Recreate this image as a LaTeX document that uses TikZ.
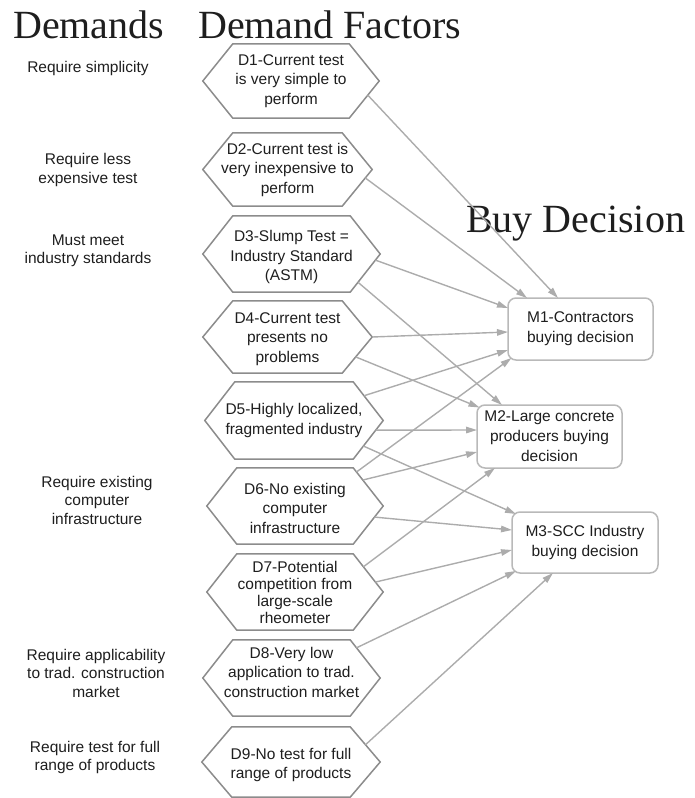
\documentclass[tikz,border=0pt]{standalone}
\usepackage{fontspec}
\setmainfont{Liberation Sans}
\newfontfamily\titlefont{Liberation Serif}
\usetikzlibrary{calc,arrows.meta}

\definecolor{hexgray}{RGB}{140,140,140}
\definecolor{linegray}{RGB}{172,172,172}
\definecolor{boxgray}{RGB}{185,185,185}
\definecolor{ink}{RGB}{30,30,30}

% hexagon outline round a factor node, with its two right-hand corners named
\newcommand\hexoutline[1]{%
  \draw[hexline] (#1.west) -- ([xshift=30pt]#1.north west)
    -- ([xshift=-30pt]#1.north east) coordinate (#1-ne)
    -- (#1.east) -- ([xshift=-30pt]#1.south east) coordinate (#1-se)
    -- ([xshift=30pt]#1.south west) -- cycle;}

\begin{document}
\begin{tikzpicture}[x=1pt,y=-1pt,
  title/.style={font=\titlefont\fontsize{40}{44}\selectfont, text=ink, anchor=base west, inner sep=0},
  demand/.style={font=\fontsize{15.5}{18.5}\selectfont, text=ink, align=center, inner sep=0},
  factor/.style={font=\fontsize{15.5}{19.5}\selectfont, text=ink, align=center, inner sep=0},
  hexline/.style={draw=hexgray, line width=1.5pt, line join=miter, fill=white},
  decision/.style={draw=boxgray, line width=1.5pt, rounded corners=8pt, fill=white,
    font=\fontsize{15.5}{20}\selectfont, text=ink, align=center, inner sep=0},
  conn/.style={draw=linegray, line width=1.4pt,
    -{Triangle[length=11pt,width=6.5pt]}}]
\useasboundingbox (0,0) rectangle (694,798);

% column titles
\node[title] (tdem) at (13,38) {Demands};
\node[title] (tfac) at (198,38) {Demand Factors};
\node[title] (tbuy) at (466,232) {Buy Decision};

% demands
\node[demand] (q1) at (88,68) {Require simplicity};
\node[demand] (q2) at (88,170) {Require less\\expensive test};
\node[demand] (q3) at (88,251) {Must meet\\industry standards};
\node[demand] (q6) at (97,500) {Require existing\\computer\\infrastructure};
\node[demand] (q8) at (96,673) {Require applicability\\to trad. construction\\market};
\node[demand] (q9) at (95,757.5) {Require test for full\\range of products};

% demand factors (frames; outlines drawn below)
\node[factor, minimum width=176pt, minimum height=74pt] (d1) at (291,81) {};
\node[factor, minimum width=169pt, minimum height=73pt] (d2) at (287.5,169.5) {};
\node[factor, minimum width=177pt, minimum height=76pt] (d3) at (291.5,254) {};
\node[factor, minimum width=169pt, minimum height=72pt] (d4) at (287.5,337) {};
\node[factor, minimum width=178pt, minimum height=77pt] (d5) at (294,420.5) {};
\node[factor, minimum width=176pt, minimum height=76pt] (d6) at (295,506) {};
\node[factor, minimum width=176pt, minimum height=76pt] (d7) at (295,592) {};
\node[factor, minimum width=177pt, minimum height=76pt] (d8) at (291.5,678) {};
\node[factor, minimum width=178pt, minimum height=70pt] (d9) at (291,762) {};

\foreach \n in {d1,d2,d3,d4,d5,d6,d7,d8,d9} {\hexoutline{\n}}

\node[factor] (t1) at (d1) {D1-Current test\\is very simple to\\perform};
\node[factor] (t2) at (d2) {D2-Current test is\\very inexpensive to\\perform};
\node[factor] (t3) at ([shift={(0,3)}]d3.center) {D3-Slump Test =\\Industry Standard\\(ASTM)};
\node[factor] (t4) at ([shift={(0,2)}]d4.center) {D4-Current test\\presents no\\problems};
\node[factor] (t5) at (d5) {D5-Highly localized,\\fragmented industry};
\node[factor] (t6) at ([shift={(0,2)}]d6.center) {D6-No existing\\computer\\infrastructure};
\node[factor, font=\fontsize{15.5}{17}\selectfont] (t7) at (d7) {D7-Potential\\competition from\\large-scale\\rheometer};
\node[factor] (t8) at ([shift={(0,-6)}]d8.center) {D8-Very low\\application to trad.\\construction market};
\node[factor] (t9) at ([shift={(0,3)}]d9.center) {D9-No test for full\\range of products};

% buying decisions
\node[decision, minimum width=145pt, minimum height=62pt] (m1) at (580.5,329) {M1-Contractors\\buying decision};
\node[decision, minimum width=145pt, minimum height=63pt] (m2) at (549.5,436.5) {M2-Large concrete\\producers buying\\decision};
\node[decision, minimum width=146pt, minimum height=61pt] (m3) at (585,542.5) {M3-SCC Industry\\buying decision};

% influences: factor -> buying decision
\draw[conn] ($(d1.east)!0.38!(d1-se)$) -- ([shift={(-22.5,-31)}]m1.center);
\draw[conn] ($(d2.east)!0.23!(d2-se)$) -- ([shift={(-53.5,-31)}]m1.center);
\draw[conn] ($(d3.east)!0.16!(d3-se)$) -- ([shift={(-72.5,-21)}]m1.center);
\draw[conn] ($(d3.east)!0.74!(d3-se)$) -- ([shift={(-47.5,-31.5)}]m2.center);
\draw[conn] (d4.east) -- ([shift={(-72.5,3)}]m1.center);
\draw[conn] ($(d4.east)!0.55!(d4-se)$) -- ([shift={(-70,-29)}]m2.center);
\draw[conn] ($(d5.east)!0.64!(d5-ne)$) -- ([shift={(-72.5,21)}]m1.center);
\draw[conn] ($(d5.east)!0.25!(d5-se)$) -- ([shift={(-72.5,-6.5)}]m2.center);
\draw[conn] ($(d5.east)!0.66!(d5-se)$) -- ([shift={(-69,-28.5)}]m3.center);
\draw[conn] ($(d6.east)!0.89!(d6-ne)$) -- ([shift={(-69,29)}]m1.center);
\draw[conn] ($(d6.east)!0.68!(d6-ne)$) -- ([shift={(-72.5,15.5)}]m2.center);
\draw[conn] ($(d6.east)!0.29!(d6-se)$) -- ([shift={(-73,-12.5)}]m3.center);
\draw[conn] ($(d7.east)!0.66!(d7-ne)$) -- ([shift={(-54.5,31.5)}]m2.center);
\draw[conn] ($(d7.east)!0.26!(d7-ne)$) -- ([shift={(-73,7.5)}]m3.center);
\draw[conn] ($(d8.east)!0.79!(d8-ne)$) -- ([shift={(-69,28.5)}]m3.center);
\draw[conn] ($(d9.east)!0.49!(d9-ne)$) -- ([shift={(-32,30.5)}]m3.center);
\end{tikzpicture}
\end{document}
